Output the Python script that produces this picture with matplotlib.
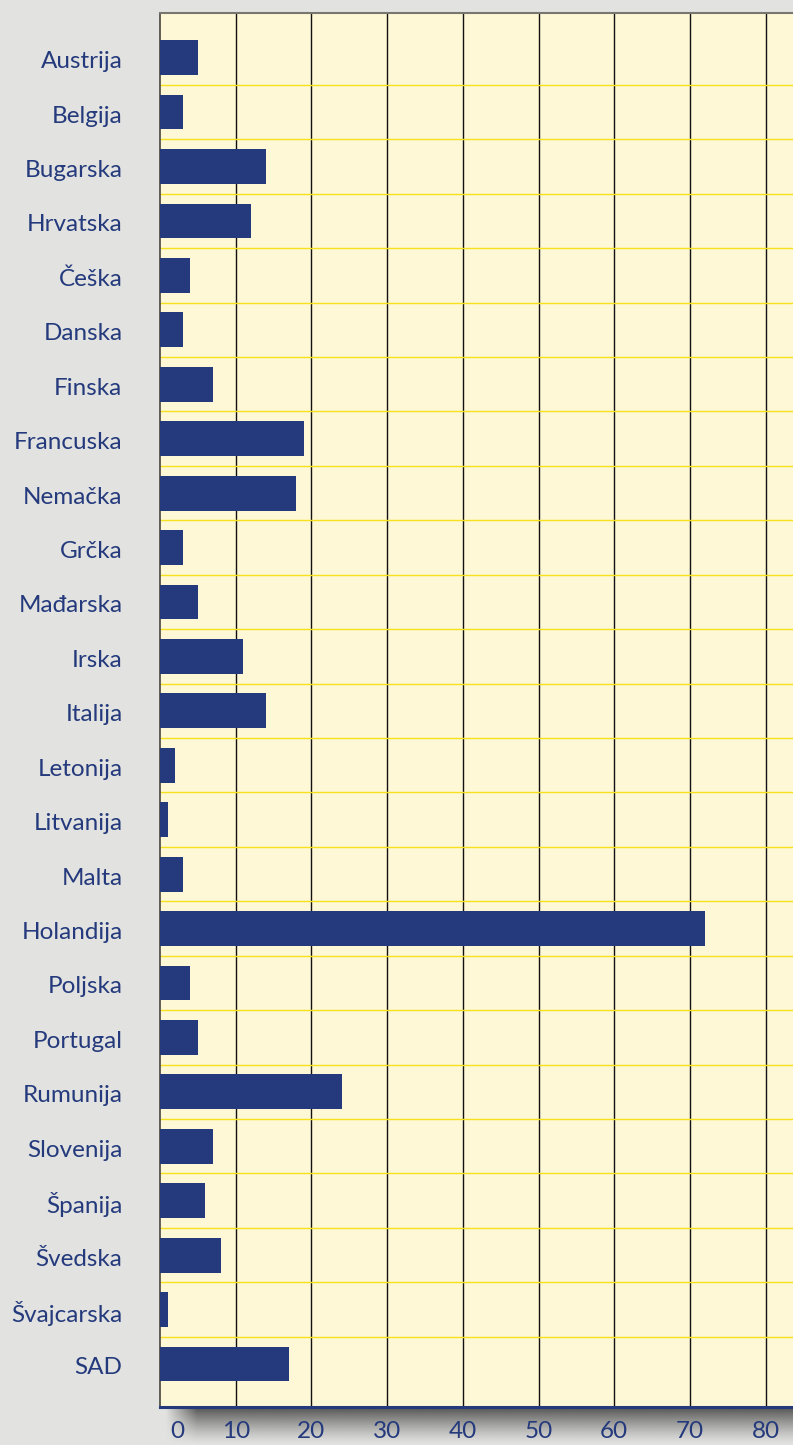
import matplotlib.pyplot as plt
import matplotlib.transforms as mtransforms
import numpy as np

countries = ["Austrija", "Belgija", "Bugarska", "Hrvatska", "Češka", "Danska",
             "Finska", "Francuska", "Nemačka", "Grčka", "Mađarska", "Irska",
             "Italija", "Letonija", "Litvanija", "Malta", "Holandija", "Poljska",
             "Portugal", "Rumunija", "Slovenija", "Španija", "Švedska",
             "Švajcarska", "SAD"]
values = [5, 3, 14, 12, 4, 3, 7, 19, 18, 3, 5, 11, 14, 2, 1, 3, 72, 4, 5, 24,
          7, 6, 8, 1, 17]
xticks = [0, 10, 20, 30, 40, 50, 60, 70, 80]

navy = "#243a7c"
plt.rcParams['font.family'] = ['Lato', 'DejaVu Sans']

W, H = 793, 1445
fig = plt.figure(figsize=(W / 100, H / 100), dpi=100, facecolor="#e2e2e0")

# main axes (runs off the right edge, like the original)
ax = fig.add_axes([160 / W, (H - 1407) / H, 1 - 160 / W, (1407 - 13) / H])
ax.set_zorder(2)
ax.set_facecolor("#fef8d6")

y = np.arange(len(countries))
ax.barh(y, values, height=0.64, color=navy, zorder=3)

ax.set_xlim(0, 83.6)
ax.set_ylim(24.79, -0.82)
ax.set_yticks(y)
ax.set_yticklabels(countries)
ax.set_xticks(xticks)
ax.set_xticklabels([str(t) for t in xticks])
ax.tick_params(axis="both", length=0, labelsize=17.5, labelcolor=navy)
ax.tick_params(axis="y", pad=27)
ax.tick_params(axis="x", pad=10)
# the 0 label sits a bit to the right of the axis
lbl0 = ax.get_xticklabels()[0]
lbl0.set_transform(lbl0.get_transform() + mtransforms.ScaledTranslation(17 / 100, 0, fig.dpi_scale_trans))
# y labels sit a touch below the bar centres
for lbl in ax.get_yticklabels():
    lbl.set_transform(lbl.get_transform() + mtransforms.ScaledTranslation(0, -2 / 100, fig.dpi_scale_trans))

# vertical black gridlines
for t in xticks[1:]:
    ax.axvline(t, color="#111111", lw=1.0, zorder=1)
# yellow separators between rows
for b in np.arange(len(countries) - 1) + 0.5:
    ax.axhline(b, color="#f5e21c", lw=1.0, zorder=1)

ax.spines["right"].set_visible(False)
ax.spines["top"].set_color("#777770")
ax.spines["top"].set_linewidth(1.5)
ax.spines["left"].set_color("#55524a")
ax.spines["left"].set_linewidth(1.3)
ax.spines["bottom"].set_color(navy)
ax.spines["bottom"].set_linewidth(2.2)

# soft shadow under the bottom axis
sh = fig.add_axes([165 / W, (H - 1445) / H, 1 - 165 / W, (1445 - 1406) / H])
sh.set_zorder(1)
sh.axis("off")
ny, nx = 60, 400
vy = np.linspace(0, 1, ny)[:, None]
vx = np.linspace(0, 1, nx)[None, :]
alpha = (1 - vy) ** 1.3 * np.clip(vx / 0.05, 0, 1)
rgba = np.zeros((ny, nx, 4))
rgba[..., :3] = 0.2
rgba[..., 3] = alpha * 0.85
sh.imshow(rgba, aspect="auto", extent=(0, 1, 0, 1), origin="upper")
sh.set_xlim(0, 1)
sh.set_ylim(0, 1)

fig.savefig("out.png", dpi=100, facecolor=fig.get_facecolor())
